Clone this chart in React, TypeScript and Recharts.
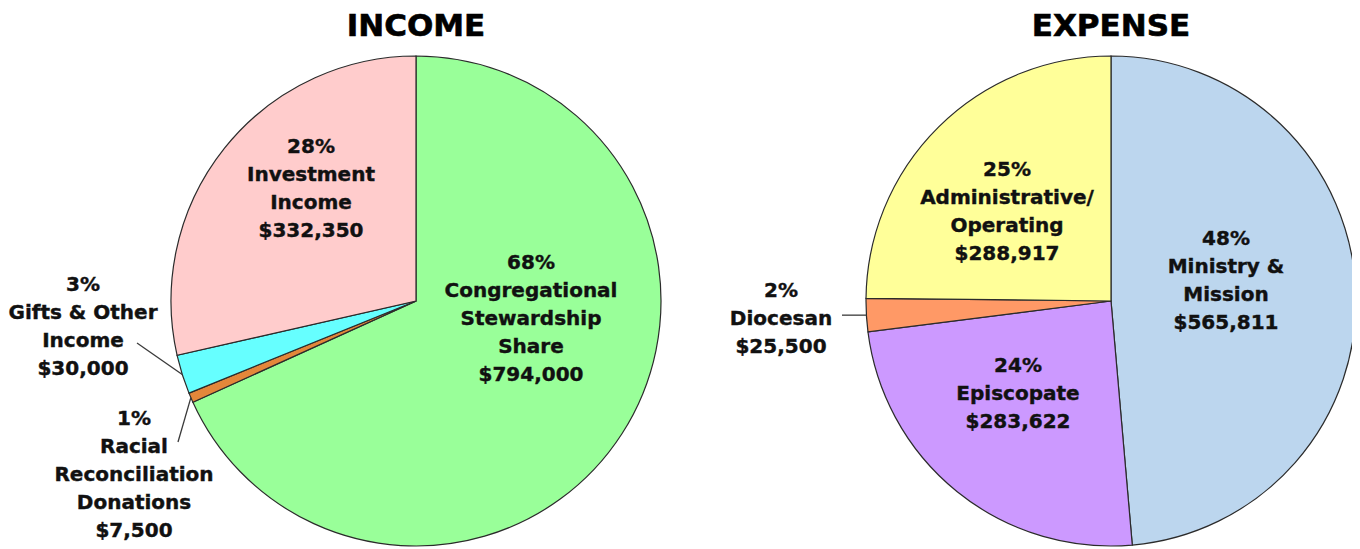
import React from 'react';
import { PieChart, Pie, Cell } from 'recharts';

// income, clockwise from 12 o'clock
const incomeLabels = ['Congregational|Stewardship|Share', 'Racial|Reconciliation|Donations', 'Gifts & Other|Income', 'Investment|Income'];
const incomeValues = [794000, 7500, 30000, 332350];
const incomePct = [68, 1, 3, 28];
const incomeColors = ['#99FF99', '#E3873A', '#66FFFF', '#FFCCCC'];

// expense, clockwise from 12 o'clock
const expenseLabels = ['Ministry &|Mission', 'Episcopate', 'Diocesan', 'Administrative/|Operating'];
const expenseValues = [565811, 283622, 25500, 288917];
const expensePct = [48, 24, 2, 25];
const expenseColors = ['#BCD6EE', '#CC99FF', '#FF9966', '#FFFF99'];

type Spot = { dx: number; dy: number; lineTo?: [number, number | null] };

// label block centres relative to the pie centre
const incomeSpots: Spot[] = [
  { dx: 115, dy: 17 },
  { dx: -282, dy: 173, lineTo: [-238, 141] },
  { dx: -333, dy: 25, lineTo: [-279, 42] },
  { dx: -105, dy: -113 },
];
const expenseSpots: Spot[] = [
  { dx: 115, dy: -21 },
  { dx: -93, dy: 92 },
  { dx: -330, dy: 17, lineTo: [-269, null] },
  { dx: -104, dy: -90 },
];

const W = 1344;
const H = 541;
const R = 245;
const CY = 293;
const INCOME_CX = 408;
const EXPENSE_CX = 1103;
const LINE_H = 28;
const FONT = '"DejaVu Sans", Verdana, sans-serif';

const money = (v: number) => '$' + v.toLocaleString('en-US');

const makeLabel = (spots: Spot[], pct: number[]) => (props: any) => {
  const { cx, cy, midAngle, outerRadius, index, value, payload } = props;
  const spot = spots[index];
  const rows = [`${pct[index]}%`, ...String(payload.label).split('|'), money(value)];
  const bx = cx + spot.dx;
  const by = cy + spot.dy;
  const y0 = by - ((rows.length - 1) * LINE_H) / 2 + 7;
  let leader = null;
  if (spot.lineTo) {
    const rad = (-midAngle * Math.PI) / 180;
    const ex = cx + outerRadius * Math.cos(rad);
    const ey = cy + outerRadius * Math.sin(rad);
    const lx = cx + spot.lineTo[0];
    const ly = spot.lineTo[1] === null ? ey : cy + spot.lineTo[1];
    leader = <line x1={ex} y1={ey} x2={lx} y2={ly} stroke="#3a3a3a" strokeWidth={1.3} />;
  }
  return (
    <g key={`lbl-${index}`}>
      {leader}
      <text
        textAnchor="middle"
        fontFamily={FONT}
        fontWeight="bold"
        fontSize={20}
        fill="#111"
        stroke="#111"
        strokeWidth={0.4}
      >
        {rows.map((r, i) => (
          <tspan key={i} x={bx} y={y0 + i * LINE_H}>
            {r}
          </tspan>
        ))}
      </text>
    </g>
  );
};

const incomeData = incomeValues.map((value, i) => ({ label: incomeLabels[i], value }));
const expenseData = expenseValues.map((value, i) => ({ label: expenseLabels[i], value }));

const titleStyle = (cx: number): React.CSSProperties => ({
  position: 'absolute',
  left: cx - 150,
  top: 2,
  width: 300,
  textAlign: 'center',
  fontFamily: FONT,
  fontWeight: 'bold',
  fontSize: 31,
  lineHeight: '31px',
  color: '#000',
  WebkitTextStroke: '0.6px #000',
});

export default function App() {
  return (
    <div style={{ position: 'relative', width: W, height: H, background: '#fff' }}>
      <PieChart width={W} height={H} margin={{ top: 0, right: 0, bottom: 0, left: 0 }}>
        <Pie
          data={incomeData}
          dataKey="value"
          cx={INCOME_CX}
          cy={CY}
          outerRadius={R}
          startAngle={90}
          endAngle={-270}
          stroke="#2b2b2b"
          strokeWidth={1.2}
          labelLine={false}
          label={makeLabel(incomeSpots, incomePct)}
          isAnimationActive={false}
        >
          {incomeData.map((d, i) => (
            <Cell key={`in-${d.label}`} fill={incomeColors[i]} />
          ))}
        </Pie>
        <Pie
          data={expenseData}
          dataKey="value"
          cx={EXPENSE_CX}
          cy={CY}
          outerRadius={R}
          startAngle={90}
          endAngle={-270}
          stroke="#2b2b2b"
          strokeWidth={1.2}
          labelLine={false}
          label={makeLabel(expenseSpots, expensePct)}
          isAnimationActive={false}
        >
          {expenseData.map((d, i) => (
            <Cell key={`ex-${d.label}`} fill={expenseColors[i]} />
          ))}
        </Pie>
      </PieChart>
      <div style={titleStyle(INCOME_CX)}>INCOME</div>
      <div style={titleStyle(EXPENSE_CX)}>EXPENSE</div>
    </div>
  );
}
